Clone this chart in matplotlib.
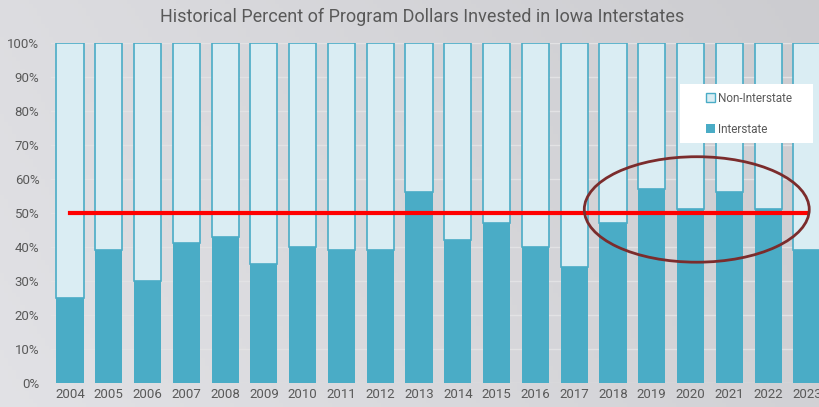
import matplotlib.pyplot as plt
import numpy as np
from matplotlib.patches import Ellipse, Patch, Rectangle
from matplotlib.ticker import PercentFormatter

# Dados
anos = [str(a) for a in range(2004, 2024)]
interestadual = [25, 39, 30, 41, 43, 35, 40, 39, 39, 56, 42, 47, 40, 34, 47, 57, 51, 56, 51, 39]
nao_interestadual = [100 - v for v in interestadual]

cor_inter = '#4aacc6'
cor_nao = '#daedf3'
cor_texto = '#595959'

plt.rcParams['font.family'] = ['Roboto', 'DejaVu Sans']

fig = plt.figure(figsize=(8.2, 4.07), dpi=100)

# Fundo cinza com leve gradiente
fundo = fig.add_axes([0, 0, 1, 1], zorder=-10)
xx, yy = np.meshgrid(np.linspace(0, 1, 200), np.linspace(0, 1, 100))
grad = 0.865 - 0.065 * xx + 0.02 * yy
fundo.imshow(np.dstack([grad, grad, grad + 0.015]).clip(0, 1), aspect='auto', extent=[0, 1, 0, 1])
fundo.axis('off')

ax = fig.add_axes([0.0617, 0.059, 0.946, 0.836])
ax.set_facecolor('none')
x = np.arange(len(anos))
ax.bar(x, interestadual, width=0.7, color=cor_inter, zorder=3, label='Interstate')
ax.bar(x, nao_interestadual, width=0.7, bottom=interestadual, color=cor_nao,
       edgecolor=cor_inter, linewidth=1.2, zorder=3, label='Non-Interstate')

ax.set_xlim(-0.5, len(anos) - 0.5)
ax.set_ylim(0, 100)
ax.set_yticks(range(0, 101, 10))
ax.yaxis.set_major_formatter(PercentFormatter(decimals=0))
ax.set_xticks(x, anos)
ax.tick_params(length=0, colors=cor_texto, labelsize=9.5)
ax.tick_params(axis='y', pad=8)
ax.grid(axis='y', color='#e2e2e4', linewidth=1, zorder=0)
for s in ax.spines.values():
    s.set_visible(False)

# Linha de 50%
ax.plot([0, len(anos) - 1], [50, 50], color='#ff0000', linewidth=3, zorder=5)

# Elipse destacando 2018-2022
ax.add_patch(Ellipse((16.16, 51), 5.8, 31, fill=False, edgecolor='#7b2c2c', linewidth=2, zorder=6))

fig.text(0.515, 0.958, 'Historical Percent of Program Dollars Invested in Iowa Interstates',
         ha='center', va='center', fontsize=13, color=cor_texto)

# Caixa branca da legenda
ax.add_patch(Rectangle((0.829, 0.649), 0.163, 0.145, transform=fig.transFigure,
                       facecolor='white', edgecolor='none', zorder=6.5, clip_on=False))

alcas = [Patch(facecolor=cor_nao, edgecolor=cor_inter), Patch(facecolor=cor_inter)]
leg = ax.legend(alcas, ['Non-Interstate', 'Interstate'], loc='upper left',
                bbox_to_anchor=(0.861, 0.774), bbox_transform=fig.transFigure,
                frameon=False, fontsize=8.5, labelspacing=1.5, handlelength=0.8,
                handleheight=0.8, handletextpad=0.2, borderpad=0, borderaxespad=0)
for t in leg.get_texts():
    t.set_color(cor_texto)
leg.set_zorder(7)

plt.savefig('out.png', dpi=100)
